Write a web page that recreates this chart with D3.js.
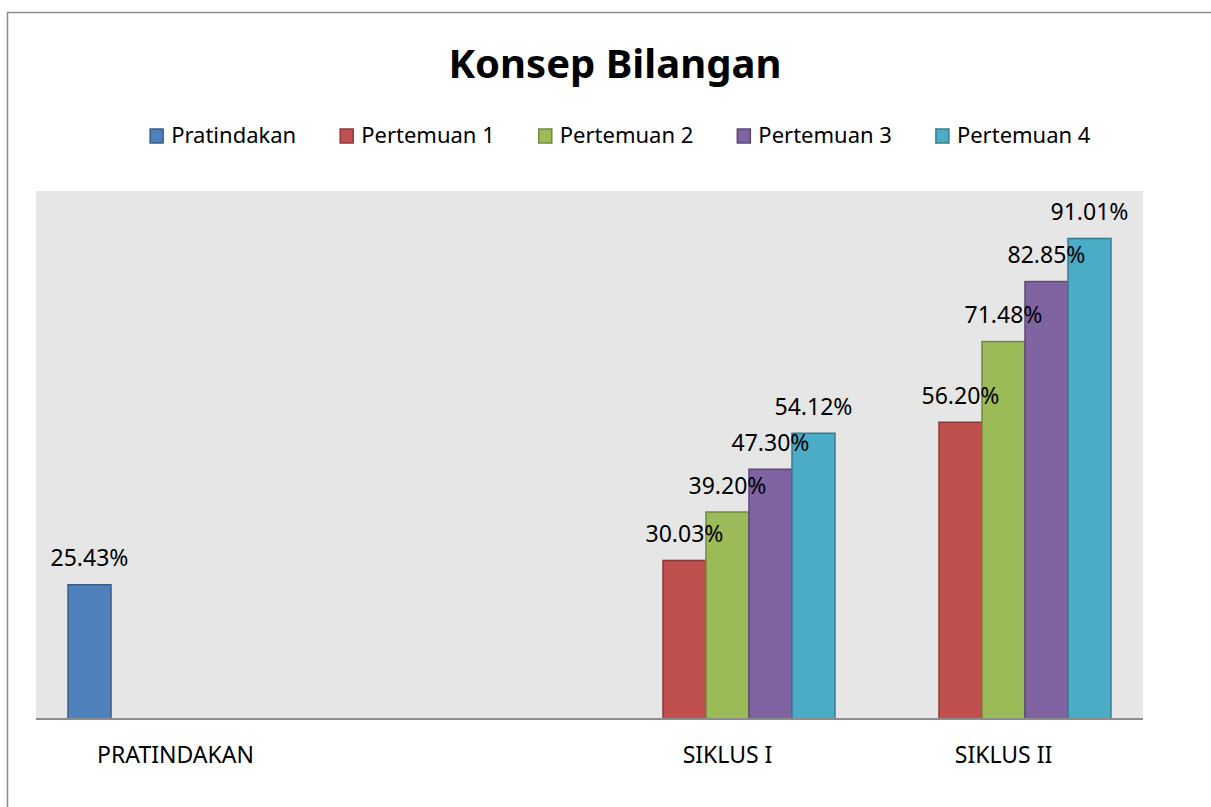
<!DOCTYPE html>
<html lang="en">
<head>
    <meta charset="UTF-8">
    <title>Konsep Bilangan</title>
    <script src="https://d3js.org/d3.v7.min.js"></script>
    <style>
        body { margin: 0; background: #fff; }
        text { font-family: "Noto Sans", "Open Sans", sans-serif; fill: #000; }
    </style>
</head>
<body>
<script>
    const width  = 1211;
    const height = 807;

    const categories = ["PRATINDAKAN", "", "SIKLUS I", "SIKLUS II"];
    const seriesNames = ["Pratindakan", "Pertemuan 1", "Pertemuan 2", "Pertemuan 3", "Pertemuan 4"];
    const pratindakan = [25.43, null, null, null];
    const pertemuan1  = [null, null, 30.03, 56.20];
    const pertemuan2  = [null, null, 39.20, 71.48];
    const pertemuan3  = [null, null, 47.30, 82.85];
    const pertemuan4  = [null, null, 54.12, 91.01];
    const seriesValues = [pratindakan, pertemuan1, pertemuan2, pertemuan3, pertemuan4];

    const fills   = ["#4F81BD", "#C0504D", "#9BBB59", "#8064A2", "#4BACC6"];
    const strokes = ["#385D8A", "#8C3836", "#71893F", "#5C4776", "#357D91"];

    const plot = {left: 36, right: 1143, top: 191, bottom: 719};

    const svg = d3.select("body").append("svg").attr("width", width).attr("height", height);

    // outer frame
    svg.append("rect")
        .attr("x", 7.5).attr("y", 12.5)
        .attr("width", width + 20).attr("height", height + 20)
        .attr("fill", "none").attr("stroke", "#8c8c8c").attr("stroke-width", 1.5);

    // plot area
    svg.append("rect")
        .attr("x", plot.left).attr("y", plot.top)
        .attr("width", plot.right - plot.left).attr("height", plot.bottom - plot.top)
        .attr("fill", "#E6E6E6");

    const keys = categories.map((c, i) => "c" + i);

    const x0 = d3.scaleBand().domain(keys).range([plot.left + 1.5, plot.right - 1.5]);
    const x1 = d3.scaleBand().domain(seriesNames).range([0, x0.bandwidth()])
                 .paddingInner(0).paddingOuter(0.71);
    const y = d3.scaleLinear().domain([0, 100]).range([plot.bottom, plot.top]);

    const bars = [];
    seriesValues.forEach((vals, s) => {
        vals.forEach((v, c) => {
            if (v !== null) bars.push({s: s, c: c, v: v});
        });
    });

    svg.append("g").selectAll("rect").data(bars).join("rect")
        .attr("x", d => x0(keys[d.c]) + x1(seriesNames[d.s]))
        .attr("y", d => y(d.v))
        .attr("width", x1.bandwidth())
        .attr("height", d => y(0) - y(d.v))
        .attr("fill", d => fills[d.s])
        .attr("stroke", d => strokes[d.s])
        .attr("stroke-width", 1.5);

    // baseline axis
    const xAxis = d3.axisBottom(x0).tickSize(0).tickPadding(0).tickFormat((k, i) => categories[i]);
    const ax = svg.append("g").attr("transform", "translate(0," + y(0) + ")").call(xAxis);
    ax.select(".domain").attr("d", "M" + plot.left + ",0H" + plot.right)
        .attr("stroke", "#8c8c8c").attr("stroke-width", 2);
    ax.selectAll("text")
        .attr("dy", null).attr("y", 44)
        .style("font-size", "23px").style("font-family", "\"Noto Sans\", sans-serif")
        .attr("fill", "#000");

    // data labels
    svg.append("g").selectAll("text").data(bars).join("text")
        .attr("x", d => x0(keys[d.c]) + x1(seriesNames[d.s]) + x1.bandwidth() / 2)
        .attr("y", d => y(d.v) - 18.5)
        .attr("text-anchor", "middle")
        .style("font-size", "23px")
        .text(d => d.v.toFixed(2) + "%");

    // title
    svg.append("text")
        .attr("x", 615).attr("y", 78)
        .attr("text-anchor", "middle")
        .style("font-size", "40px").style("font-weight", "bold")
        .text("Konsep Bilangan");

    // legend
    const gap = 44;
    const legend = svg.append("g");
    const items = legend.selectAll("g").data(seriesNames).join("g");
    items.append("rect")
        .attr("width", 13).attr("height", 14).attr("y", 129)
        .attr("fill", (d, i) => fills[i]).attr("stroke", (d, i) => strokes[i]).attr("stroke-width", 1.5);
    items.append("text")
        .attr("x", 21).attr("y", 143)
        .style("font-size", "22px")
        .text(d => d);
    let pos = 0;
    items.each(function() {
        d3.select(this).attr("transform", "translate(" + pos + ",0)");
        pos += this.getBBox().width + gap;
    });
    const totalW = pos - gap;
    legend.attr("transform", "translate(" + (620.5 - totalW / 2) + ",0)");
</script>
</body>
</html>
